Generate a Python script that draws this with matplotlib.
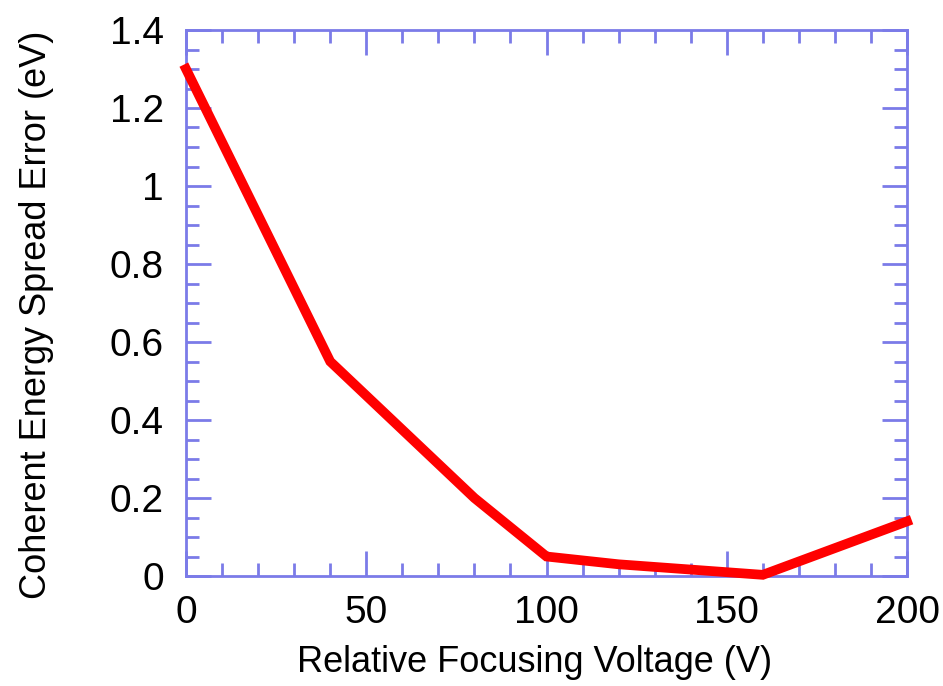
import matplotlib
matplotlib.use("Agg")
import matplotlib.pyplot as plt
from matplotlib.ticker import MultipleLocator

voltage = [0, 40, 80, 100, 120, 160, 200]
spread_error = [1.3, 0.55, 0.2, 0.05, 0.03, 0.003, 0.14]

plt.rcParams['font.family'] = ['Liberation Sans', 'DejaVu Sans']

axis_color = '#7b7be8'

fig = plt.figure(figsize=(9.43, 6.86), dpi=100)
ax = fig.add_axes([186/943, 1-576/686, (907-186)/943, (576-30)/686])

ax.plot(voltage, spread_error, color='#ff0000', linewidth=7, solid_joinstyle='miter', clip_on=False, zorder=3)

ax.set_xlim(0, 200)
ax.set_ylim(0, 1.4)
ax.xaxis.set_major_locator(MultipleLocator(50))
ax.xaxis.set_minor_locator(MultipleLocator(10))
ax.yaxis.set_major_locator(MultipleLocator(0.2))
ax.yaxis.set_minor_locator(MultipleLocator(0.05))

ax.set_yticks([0, 0.2, 0.4, 0.6, 0.8, 1.0, 1.2, 1.4])
ax.set_yticklabels(['0', '0.2', '0.4', '0.6', '0.8', '1', '1.2', '1.4'])

for s in ax.spines.values():
    s.set_color(axis_color)
    s.set_linewidth(2)

ax.tick_params(which='both', direction='in', top=True, right=True, color=axis_color, width=2)
ax.tick_params(which='major', length=18, labelsize=28)
ax.tick_params(axis='x', which='major', pad=14)
ax.tick_params(axis='y', which='major', pad=16)
ax.tick_params(which='minor', length=9.5)

ax.set_xlabel('Relative Focusing Voltage (V)', fontsize=26, labelpad=10, x=0.484)
ax.set_ylabel('Coherent Energy Spread Error (eV)', fontsize=26, labelpad=40, y=0.478)

fig.savefig('out.png', dpi=100)
